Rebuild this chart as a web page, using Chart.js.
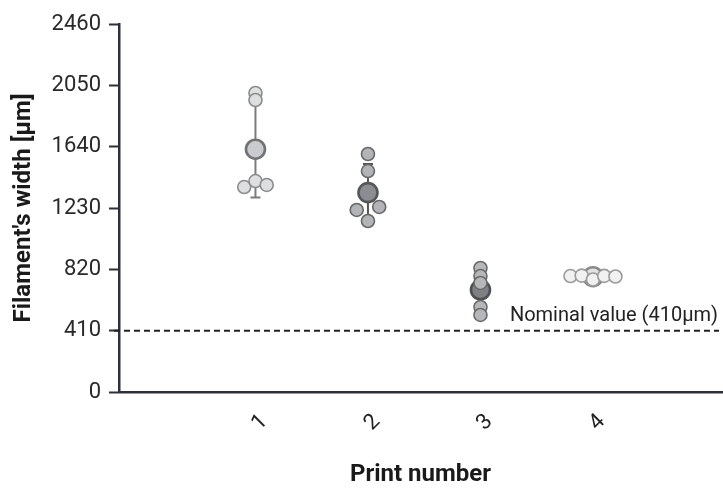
<!DOCTYPE html>
<html><head><meta charset="utf-8">
<script src="https://cdn.jsdelivr.net/npm/chart.js@4/dist/chart.umd.min.js"></script>
<style>html,body{margin:0;padding:0;background:#fff}#wrap{width:723px;height:489px;position:relative}</style>
</head><body><div id="wrap"><canvas id="c"></canvas></div>
<script>
// ---- data ----
const categories = ['1', '2', '3', '4'];
const print1 = [1999, 1952, 1370, 1410, 1384];
const print2 = [1591, 1477, 1217, 1237, 1143];
const print3 = [829, 775, 729, 568, 515];
const print4 = [775, 778, 752, 776, 772];
const jitter1 = [0, 0, -0.1, 0, 0.1];
const jitter2 = [0, 0, -0.1, 0.1, 0];
const jitter3 = [0, 0, 0, 0, 0];
const jitter4 = [-0.2, -0.1, 0, 0.1, 0.2];
const yTicks = [0, 410, 820, 1230, 1640, 2050, 2460];
const nominalValue = 410;
const nominalLabel = 'Nominal value (410µm)';

const groups = [print1, print2, print3, print4];
const jitters = [jitter1, jitter2, jitter3, jitter4];
const styles = [
  {pf: '#dedfe0', pb: '#8c8c8c', mf: '#c9cbce', mb: '#737373', eb: '#7b7b7b'},
  {pf: '#b3b4b7', pb: '#686868', mf: '#8b8d92', mb: '#55575a', eb: '#555'},
  {pf: '#b6b7ba', pb: '#6a6a6a', mf: '#7e8084', mb: '#4e4f52', eb: '#555'},
  {pf: '#f1f1f1', pb: '#9a9a9a', mf: '#e2e2e2', mb: '#8a8a8a', eb: '#8a8a8a'}
];
const mean = a => a.reduce((s, v) => s + v, 0) / a.length;
const sd = a => { const m = mean(a); return Math.sqrt(a.reduce((s, v) => s + (v - m) ** 2, 0) / (a.length - 1)); };

const datasets = [];
groups.forEach((g, i) => {
  datasets.push({
    label: 'Print ' + categories[i],
    data: g.map((v, k) => ({x: i + 1 + jitters[i][k], y: v})),
    pointRadius: 6.5, pointBorderWidth: 1.6,
    backgroundColor: styles[i].pf, borderColor: styles[i].pb, order: 0
  });
});
groups.forEach((g, i) => {
  datasets.push({
    label: 'Mean ' + categories[i],
    data: [{x: i + 1, y: mean(g)}],
    pointRadius: 9.5, pointBorderWidth: 2.6,
    backgroundColor: styles[i].mf, borderColor: styles[i].mb, order: 1
  });
});

const AXIS = '#2d3139';
Chart.defaults.font.family = 'Roboto';

const errorBars = {
  id: 'errorBars',
  beforeDatasetsDraw(chart) {
    const {ctx, scales: {x, y}} = chart;
    ctx.save();
    groups.forEach((g, i) => {
      const m = mean(g), s = sd(g);
      const px = x.getPixelForValue(i + 1);
      const top = y.getPixelForValue(m + s), bot = y.getPixelForValue(m - s);
      ctx.strokeStyle = styles[i].eb; ctx.lineWidth = 2;
      ctx.beginPath();
      ctx.moveTo(px, top); ctx.lineTo(px, bot);
      ctx.moveTo(px - 5, top); ctx.lineTo(px + 5, top);
      ctx.moveTo(px - 5, bot); ctx.lineTo(px + 5, bot);
      ctx.stroke();
    });
    ctx.restore();
  }
};

const nominal = {
  id: 'nominal',
  afterDatasetsDraw(chart) {
    const {ctx, chartArea, scales: {y}} = chart;
    const py = y.getPixelForValue(nominalValue);
    ctx.save();
    ctx.strokeStyle = '#222'; ctx.lineWidth = 2; ctx.setLineDash([6, 4]);
    ctx.beginPath(); ctx.moveTo(chartArea.left - 5, py); ctx.lineTo(chartArea.right - 3, py); ctx.stroke();
    ctx.setLineDash([]);
    ctx.fillStyle = '#222'; ctx.font = '20px Roboto';
    ctx.textAlign = 'right'; ctx.textBaseline = 'middle';
    ctx.fillText(nominalLabel, chartArea.right - 4, py - 15);
    ctx.restore();
  }
};

new Chart(document.getElementById('c'), {
  type: 'scatter',
  data: {datasets},
  plugins: [errorBars, nominal],
  options: {
    responsive: true, maintainAspectRatio: false, animation: false,
    layout: {autoPadding: false, padding: {top: 24, right: 1, left: 0, bottom: 0}},
    plugins: {legend: {display: false}, tooltip: {enabled: false}},
    scales: {
      x: {
        type: 'linear', min: -0.213, max: 5.147,
        afterBuildTicks: s => { s.ticks = categories.map((c, i) => ({value: i + 1})); },
        afterFit: s => { s.height = 97; s.paddingLeft = 0; s.paddingRight = 0; },
        ticks: {minRotation: 45, maxRotation: 45, autoSkip: false, color: '#222', font: {size: 22}, padding: 9, labelOffset: 9,
          callback: (v) => categories[v - 1] },
        grid: {drawOnChartArea: false, drawTicks: true, tickLength: 8, tickColor: 'rgba(0,0,0,0)'},
        border: {color: AXIS, width: 2.5},
        title: {display: true, text: 'Print number', color: '#1a1a1a', font: {size: 24, weight: 'bold'}, padding: {top: 0, bottom: 0}}
      },
      y: {
        min: 0, max: 2460,
        afterBuildTicks: s => { s.ticks = yTicks.map(v => ({value: v})); },
        afterFit: s => { s.width = 119; },
        ticks: {color: '#2a2a2a', font: {size: 22}, padding: 8, callback: v => String(v)},
        grid: {drawOnChartArea: false, drawTicks: true, tickLength: 10, tickWidth: 2, tickColor: AXIS},
        border: {color: AXIS, width: 2.5},
        title: {display: true, text: "Filament's width [µm]", color: '#1a1a1a', font: {size: 24, weight: 'bold'}, padding: {top: 10, bottom: 0}}
      }
    }
  }
});
</script></body></html>
